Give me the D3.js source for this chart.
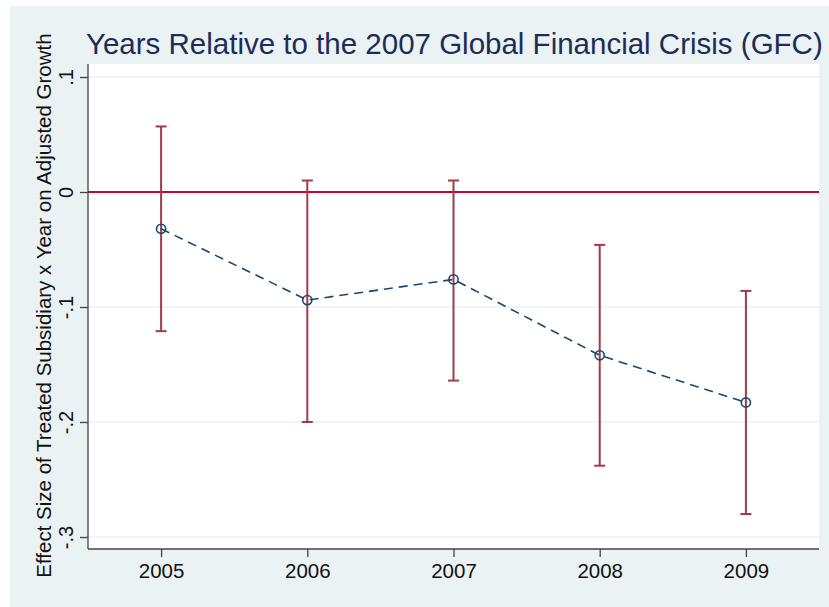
<!DOCTYPE html>
<html>
<head>
<meta charset="utf-8">
<script src="https://cdn.jsdelivr.net/npm/d3@7"></script>
<style>
  body { margin: 0; background: #ffffff; }
  svg { display: block; }
  text { font-family: "Liberation Sans", Arial, sans-serif; }
</style>
</head>
<body>
<svg id="chart" width="829" height="607"></svg>
<script>
// Event-study estimates with 95% confidence intervals
const years = [2005, 2006, 2007, 2008, 2009];
const estimates = [-0.032, -0.094, -0.076, -0.142, -0.183];
const ciLower = [-0.121, -0.200, -0.164, -0.238, -0.280];
const ciUpper = [0.057, 0.010, 0.010, -0.046, -0.086];
const yTicks = [0.1, 0, -0.1, -0.2, -0.3];
const yTickLabels = [".1", "0", "-.1", "-.2", "-.3"];
const titleText = "Years Relative to the 2007 Global Financial Crisis (GFC)";
const yAxisTitle = "Effect Size of Treated Subsidiary x Year on Adjusted Growth";

const rows = years.map((yr, i) => ({ yr, est: estimates[i], lo: ciLower[i], hi: ciUpper[i] }));

const svg = d3.select("#chart");
const plot = { left: 88, right: 819, top: 64, bottom: 549 };

// Outer graph region
svg.append("rect")
  .attr("x", 10).attr("y", 6)
  .attr("width", 819).attr("height", 601)
  .attr("fill", "#eaf2f3");

// Inner plot region
svg.append("rect")
  .attr("x", plot.left).attr("y", plot.top)
  .attr("width", plot.right - plot.left).attr("height", plot.bottom - plot.top)
  .attr("fill", "#ffffff");

const x = d3.scaleLinear().domain([2004.5, 2009.5]).range([plot.left, plot.right]);
const y = d3.scaleLinear().domain([-0.3, 0.1]).range([537, 77]);

// Horizontal grid lines
svg.append("g")
  .selectAll("line")
  .data(yTicks.filter(v => v !== 0))
  .join("line")
  .attr("x1", plot.left).attr("x2", plot.right)
  .attr("y1", d => y(d)).attr("y2", d => y(d))
  .attr("stroke", "#eaf2f3")
  .attr("stroke-width", 1.5);

// Reference line at zero
svg.append("line")
  .attr("x1", plot.left).attr("x2", plot.right)
  .attr("y1", y(0)).attr("y2", y(0))
  .attr("stroke", "#c10534")
  .attr("stroke-width", 2);

// Confidence interval bars with caps
const ci = svg.append("g").attr("stroke", "#a33a48").attr("stroke-width", 2);
ci.selectAll("line.bar")
  .data(rows)
  .join("line")
  .attr("class", "bar")
  .attr("x1", d => x(d.yr)).attr("x2", d => x(d.yr))
  .attr("y1", d => y(d.hi)).attr("y2", d => y(d.lo));
ci.selectAll("line.capHi")
  .data(rows)
  .join("line")
  .attr("class", "capHi")
  .attr("x1", d => x(d.yr) - 5.5).attr("x2", d => x(d.yr) + 5.5)
  .attr("y1", d => y(d.hi)).attr("y2", d => y(d.hi));
ci.selectAll("line.capLo")
  .data(rows)
  .join("line")
  .attr("class", "capLo")
  .attr("x1", d => x(d.yr) - 5.5).attr("x2", d => x(d.yr) + 5.5)
  .attr("y1", d => y(d.lo)).attr("y2", d => y(d.lo));

// Point estimates connected by a dashed line
svg.append("path")
  .datum(rows)
  .attr("fill", "none")
  .attr("stroke", "#1a476f")
  .attr("stroke-width", 1.6)
  .attr("stroke-dasharray", "9,6")
  .attr("d", d3.line().x(d => x(d.yr)).y(d => y(d.est)));

svg.append("g")
  .selectAll("circle")
  .data(rows)
  .join("circle")
  .attr("cx", d => x(d.yr)).attr("cy", d => y(d.est))
  .attr("r", 4.6)
  .attr("fill", "none")
  .attr("stroke", "#1a476f")
  .attr("stroke-width", 1.6);

// Y axis
const yAxis = svg.append("g")
  .attr("transform", `translate(${plot.left},0)`)
  .call(d3.axisLeft(y).tickValues(yTicks).tickFormat((d, i) => yTickLabels[i]).tickSize(8));
yAxis.select(".domain").remove();
yAxis.selectAll(".tick line").attr("stroke", "#444").attr("stroke-width", 1.3);
yAxis.selectAll(".tick text")
  .attr("x", null).attr("dy", null)
  .attr("text-anchor", "middle")
  .attr("transform", "translate(-15,0) rotate(-90)")
  .attr("fill", "#111")
  .style("font-size", "20px");
svg.append("line")
  .attr("x1", plot.left).attr("x2", plot.left)
  .attr("y1", plot.top).attr("y2", plot.bottom)
  .attr("stroke", "#444").attr("stroke-width", 1.3);

// X axis
const xAxis = svg.append("g")
  .attr("transform", `translate(0,${plot.bottom})`)
  .call(d3.axisBottom(x).tickValues(years).tickFormat(d3.format("d")).tickSize(8).tickPadding(6));
xAxis.select(".domain").remove();
xAxis.selectAll(".tick line").attr("stroke", "#444").attr("stroke-width", 1.3);
xAxis.selectAll(".tick text")
  .attr("fill", "#111")
  .style("font-size", "20.5px");
svg.append("line")
  .attr("x1", plot.left).attr("x2", plot.right)
  .attr("y1", plot.bottom).attr("y2", plot.bottom)
  .attr("stroke", "#444").attr("stroke-width", 1.3);

// Axis title
svg.append("text")
  .attr("transform", `translate(51,${(28 + 583) / 2}) rotate(-90)`)
  .attr("text-anchor", "middle")
  .attr("fill", "#111")
  .style("font-size", "20.5px")
  .text(yAxisTitle);

// Chart title
svg.append("text")
  .attr("x", 86).attr("y", 54)
  .attr("fill", "#1e2c58")
  .style("font-size", "29.5px")
  .text(titleText);
</script>
</body>
</html>
